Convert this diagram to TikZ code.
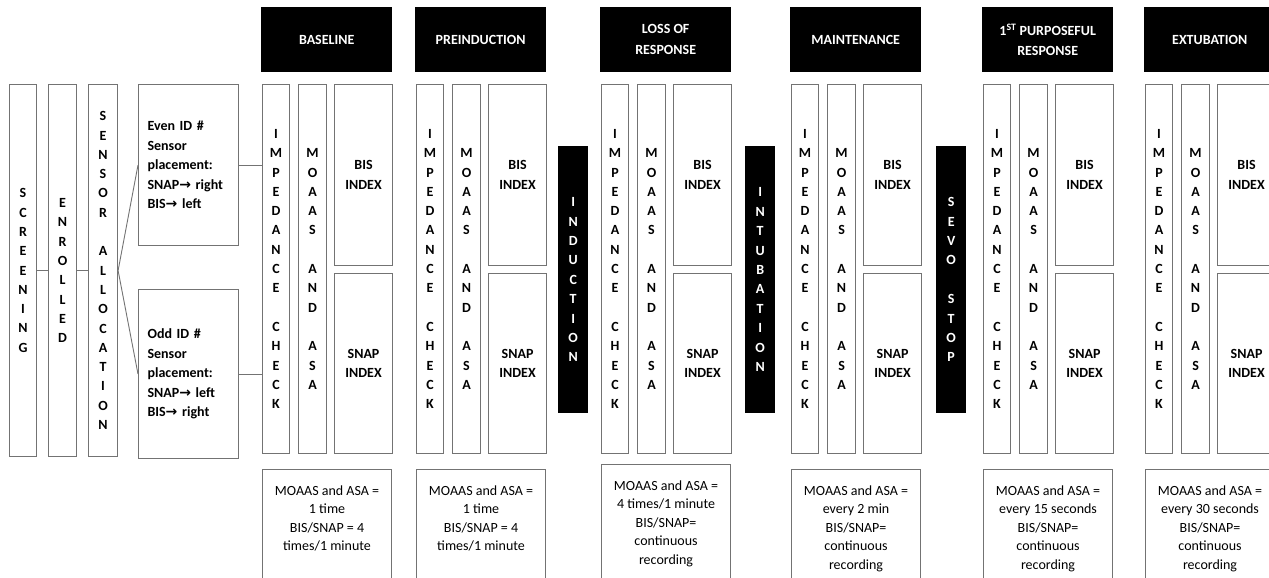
\documentclass[tikz,border=0pt]{standalone}
\usepackage{fontspec}
\setmainfont{Carlito}
\newfontfamily\arrowfont{DejaVu Sans}

\newcommand{\impcheck}{I\\M\\P\\E\\D\\A\\N\\C\\E\\~\\C\\H\\E\\C\\K}
\newcommand{\moaasasa}{M\\O\\A\\A\\S\\~\\A\\N\\D\\~\\A\\S\\A}
\newcommand{\toarrow}{{\arrowfont\bfseries\char"2192}}

\tikzset{
  frame/.style={draw=black!55, line width=1.1pt, inner sep=0pt, anchor=north west},
  letters/.style={frame, align=center, font=\fontsize{14}{19.3}\selectfont\bfseries},
  blackbox/.style={fill=black, inner sep=0pt, anchor=north west, align=center, text=white, font=\fontsize{14}{20.5}\selectfont\bfseries},
  notebox/.style={frame, align=center, inner ysep=16pt, text depth=60pt, font=\fontsize{14}{18.5}\selectfont},
  idbox/.style={frame, inner xsep=9pt, text width=82pt, align=left, font=\fontsize{14}{19.5}\selectfont\bfseries},
  link/.style={draw=black!55, line width=0.9pt},
}

\begin{document}
\begin{tikzpicture}[x=1pt, y=-1pt]

    \useasboundingbox (0,0) rectangle (1269,578);
    \clip (0,0) rectangle (1269,578);

    % left columns
    \node[letters, minimum width=27pt, minimum height=372pt] (screen) at (9,84) {S\\C\\R\\E\\E\\N\\I\\N\\G};
    \node[letters, minimum width=28pt, minimum height=372pt] (enrol) at (48,84) {E\\N\\R\\O\\L\\L\\E\\D};
    \node[letters, minimum width=29pt, minimum height=372pt] (sensor) at (88,84) {S\\E\\N\\S\\O\\R\\~\\A\\L\\L\\O\\C\\A\\T\\I\\O\\N};

    % sensor placement
    \node[idbox, minimum height=161pt] (even) at (138,84) {Even ID \#\\Sensor\\placement:\\SNAP\toarrow{} right\\BIS\toarrow{} left};
    \node[idbox, minimum height=169pt] (odd) at (138,289) {Odd ID \#\\Sensor\\placement:\\SNAP\toarrow{} left\\BIS\toarrow{} right};

    % phases
    \foreach \x/\n/\nt/\head/\note in {
      262/base/469/{BASELINE}/{MOAAS and ASA =\\1 time\\BIS/SNAP = 4\\times/1 minute},
      416/preind/469/{PREINDUCTION}/{MOAAS and ASA =\\1 time\\BIS/SNAP = 4\\times/1 minute},
      601/loss/464/{LOSS OF\\RESPONSE}/{MOAAS and ASA =\\4 times/1 minute\\BIS/SNAP=\\continuous\\recording},
      791/maint/469/{MAINTENANCE}/{MOAAS and ASA =\\every 2 min\\BIS/SNAP=\\continuous\\recording},
      983/purp/469/{1\textsuperscript{ST} PURPOSEFUL\\RESPONSE}/{MOAAS and ASA =\\every 15 seconds\\BIS/SNAP=\\continuous\\recording},
      1145/extub/469/{EXTUBATION}/{MOAAS and ASA =\\every 30 seconds\\BIS/SNAP=\\continuous\\recording}}
    {
      \node[blackbox, minimum width=131pt, minimum height=65pt] (head-\n) at (\x-1,7) {\head};
      \node[letters, minimum width=27pt, minimum height=369pt] (imp-\n) at (\x,84) {\impcheck};
      \node[letters, minimum width=28pt, minimum height=369pt] (moa-\n) at (\x+36,84) {\moaasasa};
      \node[letters, minimum width=58pt, minimum height=181pt] (bis-\n) at (\x+72,84) {BIS\\INDEX};
      \node[letters, minimum width=58pt, minimum height=180pt] (snap-\n) at (\x+72,273) {SNAP\\INDEX};
      \node[notebox, minimum width=129pt] (note-\n) at (\x,\nt) {\note};
    }

    % events between phases
    \foreach \x/\n/\t in {558/induct/{I\\N\\D\\U\\C\\T\\I\\O\\N}, 745/intub/{I\\N\\T\\U\\B\\A\\T\\I\\O\\N}, 936/sevo/{S\\E\\V\\O\\~\\S\\T\\O\\P}}
      \node[blackbox, minimum width=30pt, minimum height=267pt, font=\fontsize{14}{19.4}\selectfont\bfseries] (\n) at (\x,146) {\t};

    % connectors
    \draw[link] (screen.east) -- (enrol.west);
    \draw[link] (enrol.east) -- (sensor.west);
    \draw[link] (sensor.east) -- (even.west);
    \draw[link] (sensor.east) -- (odd.west);
    \draw[link] (even.east) -- (even.east -| imp-base.west);
    \draw[link] (odd.east) -- (odd.east -| imp-base.west);

\end{tikzpicture}
\end{document}
